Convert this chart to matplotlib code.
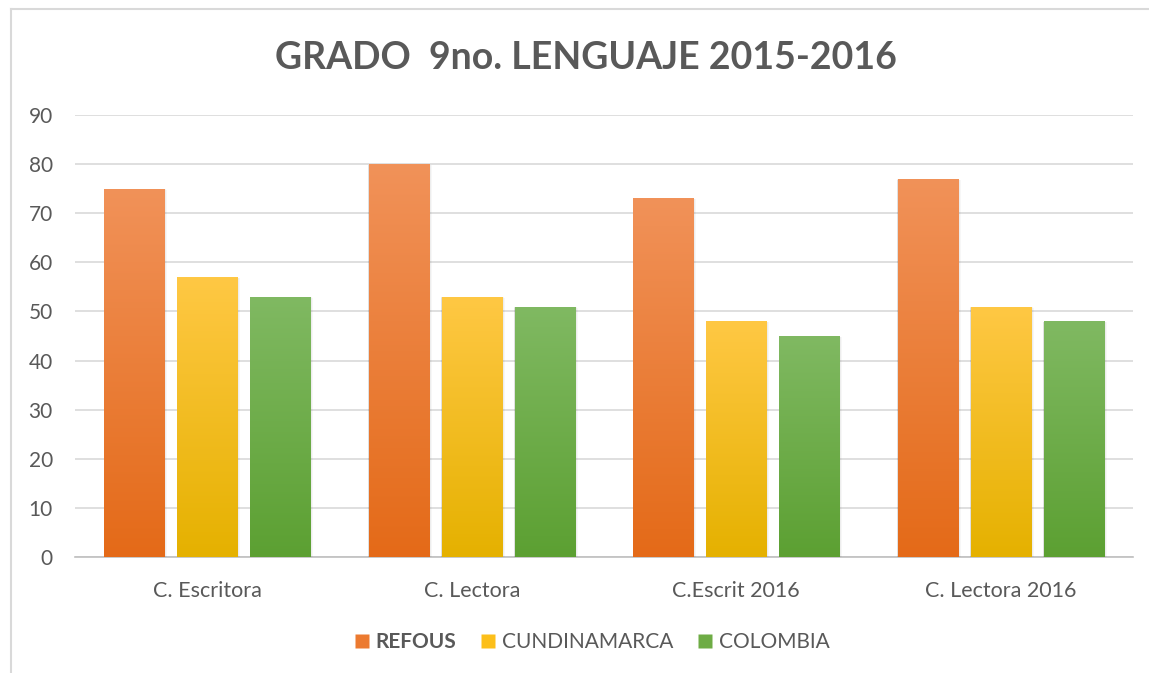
import matplotlib
matplotlib.use("Agg")
import matplotlib.pyplot as plt
import numpy as np
from matplotlib.colors import LinearSegmentedColormap
from matplotlib.patches import Rectangle
from matplotlib.lines import Line2D

categories = ["C. Escritora", "C. Lectora", "C.Escrit 2016", "C. Lectora 2016"]
series_names = ["REFOUS", "CUNDINAMARCA", "COLOMBIA"]
refous = [75, 80, 73, 77]
cundinamarca = [57, 53, 48, 51]
colombia = [53, 51, 45, 48]
yticks = [0, 10, 20, 30, 40, 50, 60, 70, 80, 90]
title = "GRADO  9no. LENGUAJE 2015-2016"

grad = [("#E46A18", "#F19259"), ("#E5B100", "#FFC844"), ("#5CA032", "#80B962")]
legend_col = ["#EC7A30", "#FCBF1A", "#6EAC45"]

plt.rcParams['font.family'] = ['Lato', 'DejaVu Sans']
fig = plt.figure(figsize=(11.49, 6.73), dpi=100)
ax = fig.add_axes([75/1149, 1-557/673, (1133-75)/1149, (557-115)/673])

x = np.arange(len(categories))
width = 0.227
step = 0.276
data = [refous, cundinamarca, colombia]
for i, vals in enumerate(data):
    cmap = LinearSegmentedColormap.from_list("g%d" % i, [grad[i][0], grad[i][1]])
    for xi, v in zip(x, vals):
        x0 = xi + (i - 1) * step - width / 2
        # soft shadow
        for k, a in enumerate([0.05, 0.04, 0.03]):
            d = 0.003 * (k + 1)
            ax.add_patch(Rectangle((x0 - d * 0.3, 0), width + d * 1.6, v - 0.1 - k * 0.05,
                                   facecolor="#000000", alpha=a, edgecolor="none", zorder=2))
        im = ax.imshow(np.linspace(0, 1, 256).reshape(-1, 1), cmap=cmap, origin="lower",
                       extent=[x0, x0 + width, 0, v], aspect="auto", zorder=3)
        r = Rectangle((x0, 0), width, v, facecolor="none", edgecolor="none", zorder=3)
        ax.add_patch(r)
        im.set_clip_path(r)

ax.set_xlim(-0.5, len(categories) - 0.5)
ax.set_ylim(0, 90)
ax.set_yticks(yticks)
ax.set_xticks(x)
ax.set_xticklabels(categories)
ax.tick_params(axis="both", length=0, labelsize=15, labelcolor="#595959")
ax.tick_params(axis="x", pad=17, labelsize=15.5)
ax.tick_params(axis="y", pad=16)
ax.grid(axis="y", color="#D9D9D9", linewidth=1.2, zorder=0)
ax.set_axisbelow(True)
for s in ["top", "right", "left"]:
    ax.spines[s].set_visible(False)
ax.spines["bottom"].set_color("#BFBFBF")
ax.spines["bottom"].set_linewidth(1.2)
ax.spines["bottom"].set_zorder(1)

fig.text(586/1149, 1-58/673, title, ha="center", va="center", fontsize=27,
         fontweight="bold", color="#595959")

handles = [Line2D([], [], marker="s", linestyle="none", markersize=10,
                  markerfacecolor=c, markeredgecolor="none") for c in legend_col]
leg = fig.legend(handles, series_names, loc="center", bbox_to_anchor=(592/1149, 1-642/673),
                 ncol=3, frameon=False, fontsize=15, handlelength=0.7, handletextpad=0.3,
                 columnspacing=1.2, labelcolor="#595959")
leg.get_texts()[0].set_fontweight("bold")

fig.add_artist(Line2D([11/1149, 11/1149], [0, 1-9/673], color="#D9D9D9", linewidth=1.5))
fig.add_artist(Line2D([11/1149, 1], [1-9/673, 1-9/673], color="#D9D9D9", linewidth=1.5))

fig.savefig("out.png", dpi=100)
